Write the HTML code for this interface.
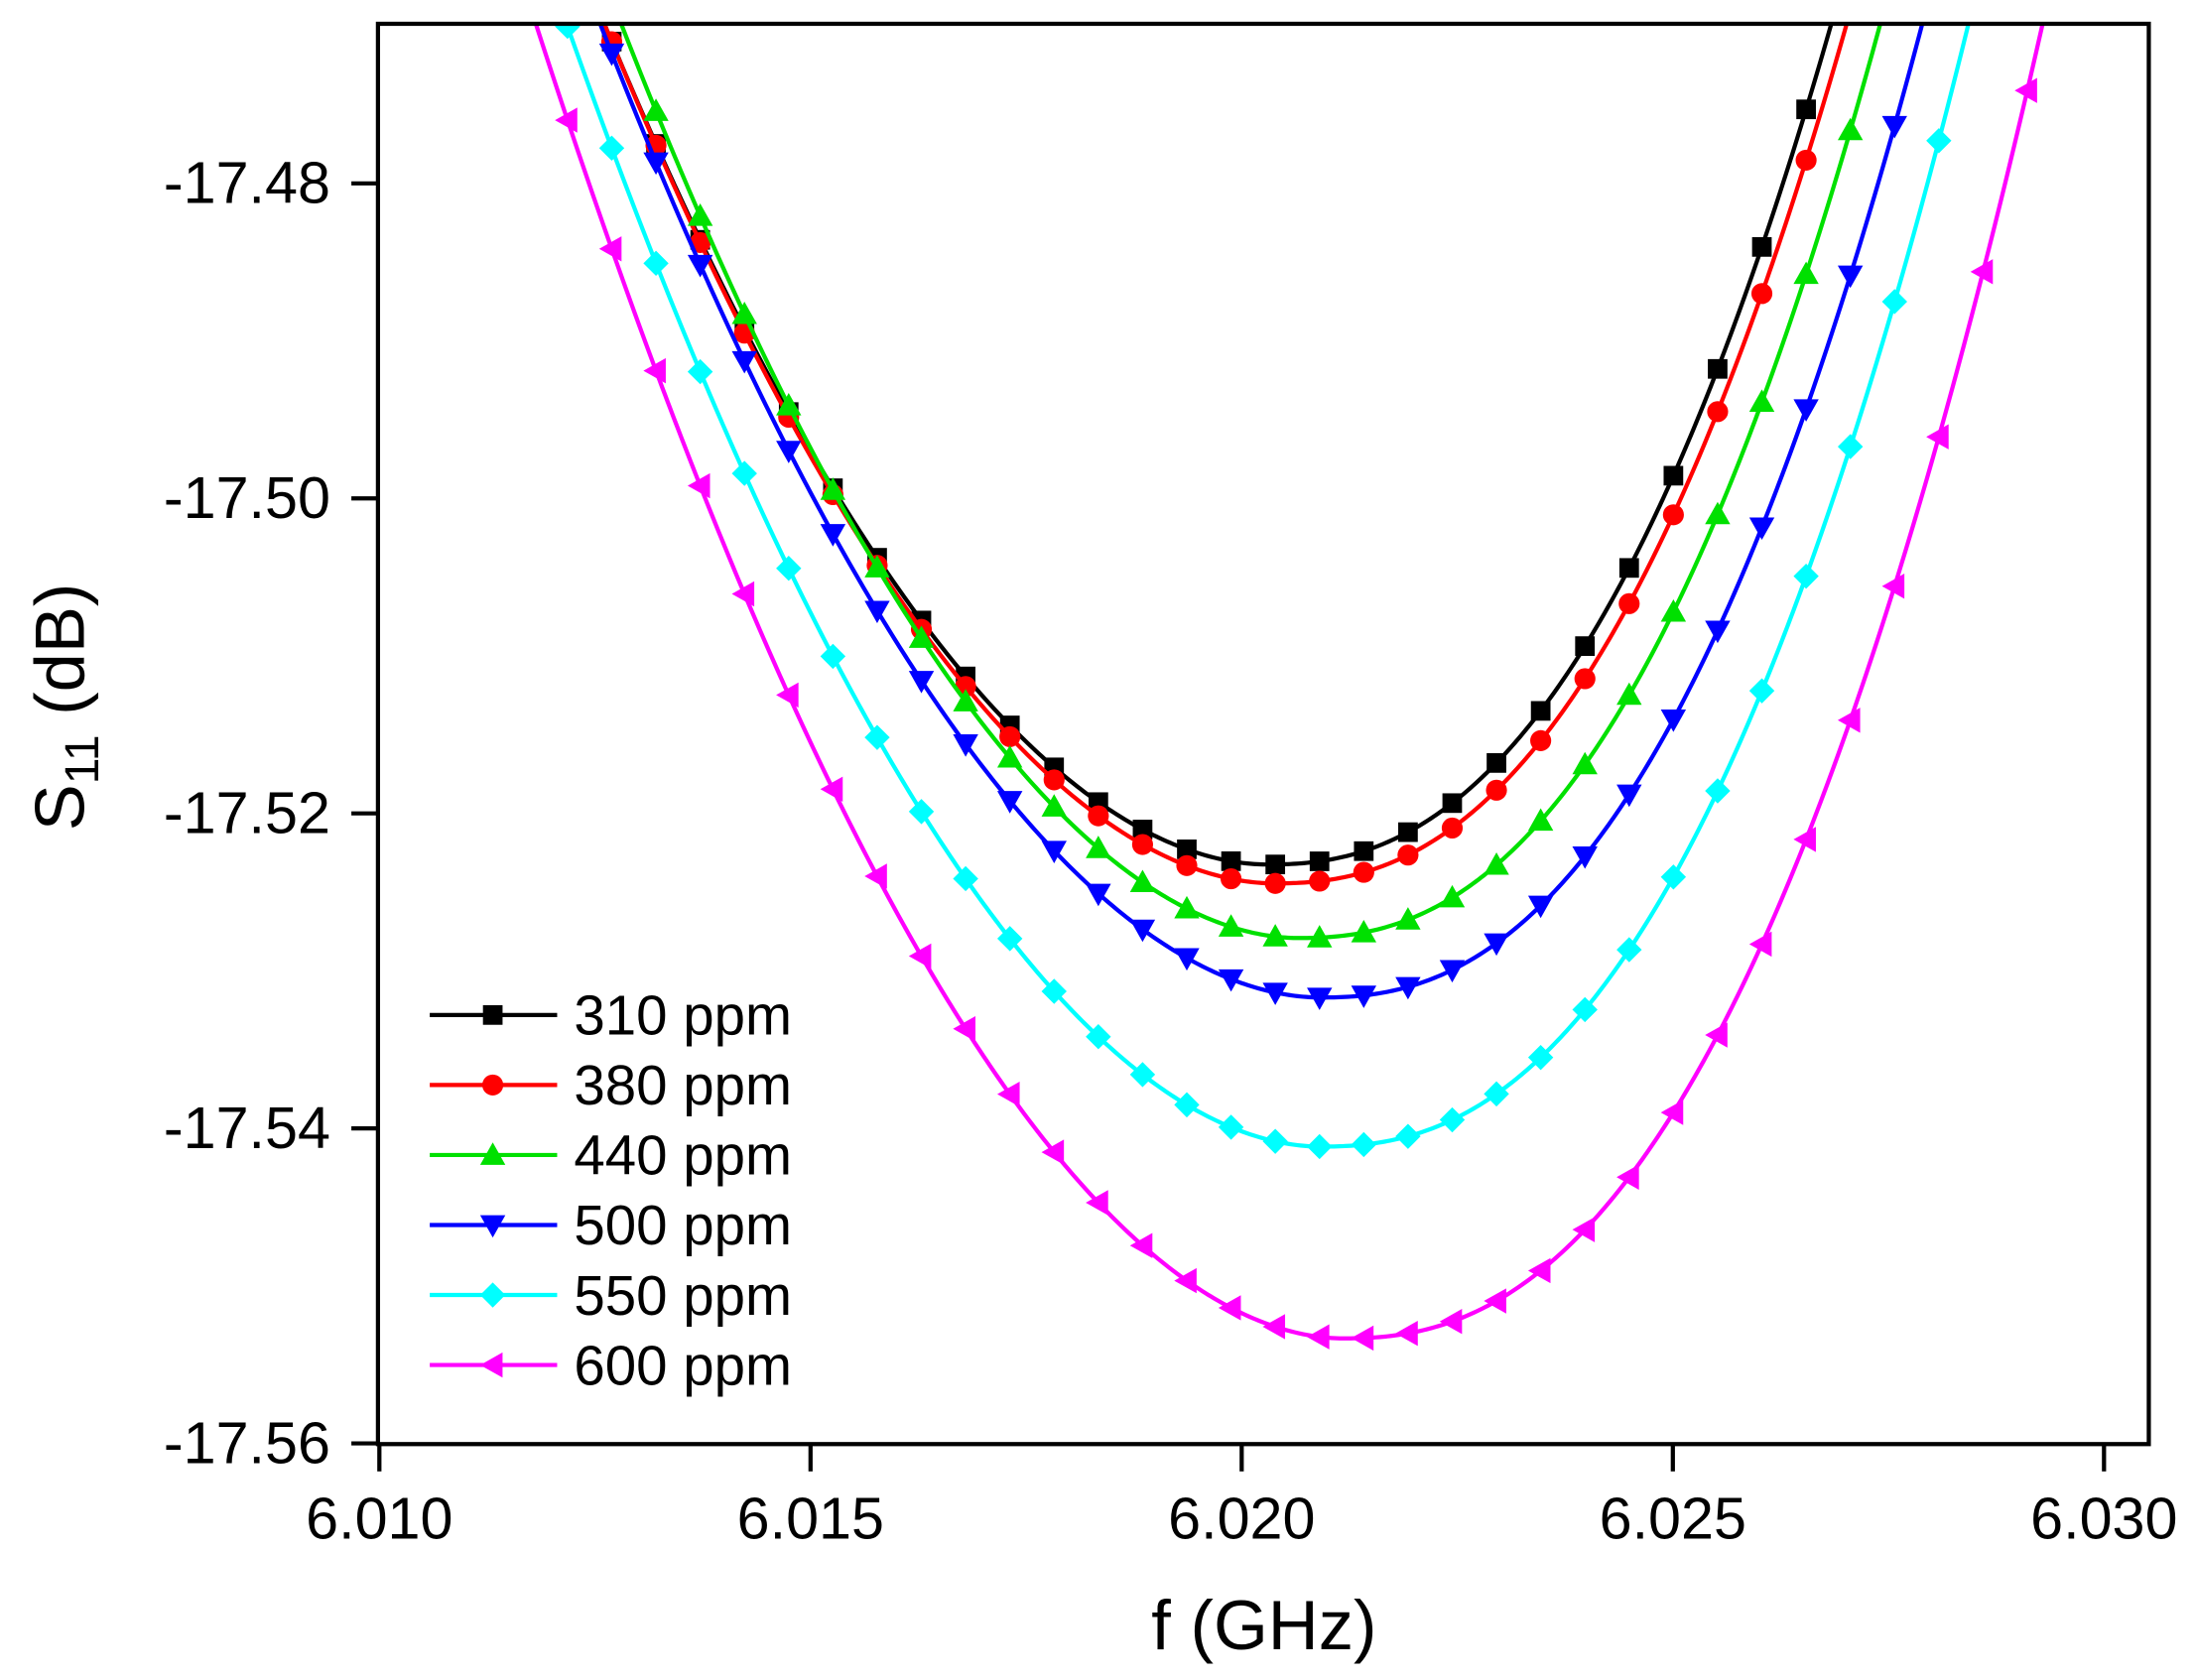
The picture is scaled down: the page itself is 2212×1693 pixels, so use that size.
<!DOCTYPE html>
<html><head><meta charset="utf-8"><style>
html,body{margin:0;padding:0;background:#fff;}
svg{display:block;}
text{font-family:"Liberation Sans",Arial,sans-serif;fill:#000;}
</style></head><body>
<svg id="s" width="2212" height="1693" viewBox="0 0 1568 1200" preserveAspectRatio="none" xmlns="http://www.w3.org/2000/svg">
<defs><clipPath id="c"><rect x="270" y="17" width="1266" height="1015"/></clipPath></defs>
<g id="plot" clip-path="url(#c)"></g>
<g id="leg"></g>
<rect x="270" y="17" width="1265" height="1014.5" fill="none" stroke="#000" stroke-width="3"/>
<g stroke="#000" stroke-width="3">
<line x1="251" y1="131" x2="270" y2="131"/><line x1="251" y1="356" x2="270" y2="356"/>
<line x1="251" y1="581" x2="270" y2="581"/><line x1="251" y1="806" x2="270" y2="806"/>
<line x1="251" y1="1031" x2="270" y2="1031"/>
<line x1="271" y1="1031" x2="271" y2="1051"/><line x1="579" y1="1031" x2="579" y2="1051"/>
<line x1="887" y1="1031" x2="887" y2="1051"/><line x1="1195" y1="1031" x2="1195" y2="1051"/>
<line x1="1503" y1="1031" x2="1503" y2="1051"/>
</g>
<g font-size="42" text-anchor="end">
<text x="236" y="145">-17.48</text><text x="236" y="370">-17.50</text>
<text x="236" y="595">-17.52</text><text x="236" y="820">-17.54</text>
<text x="236" y="1045">-17.56</text>
</g>
<g font-size="42" text-anchor="middle">
<text x="271" y="1099">6.010</text><text x="579" y="1099">6.015</text>
<text x="887" y="1099">6.020</text><text x="1195" y="1099">6.025</text>
<text x="1503" y="1099">6.030</text>
</g>
<text x="903" y="1178" font-size="50" text-anchor="middle">f (GHz)</text>
<text transform="translate(60,505) rotate(-90)" font-size="50" text-anchor="middle">S<tspan font-size="34" dy="10">11</tspan><tspan dy="-10"> (dB)</tspan></text>
</svg>
<script>
(function(){
var NS="http://www.w3.org/2000/svg";
var S=[
 ["#000000","sq",905,617.5,432,1308,"310 ppm"],
 ["#ff0000","ci",910,631,432,1319,"380 ppm"],
 ["#00e000","tu",927,670,444,1343,"440 ppm"],
 ["#0000ff","td",943,712.5,429,1373,"500 ppm"],
 ["#00ffff","di",943,819,405,1406,"550 ppm"],
 ["#ff00ff","tl",959,956,383,1459,"600 ppm"]];
var TOPY=17.7,pL=1.9,pR=2.35;
function yAt(s,x){var u=x-s[2],D=s[3]-TOPY;
 if(u<0)return s[3]-D*Math.pow(-u/(s[2]-s[4]),pL);
 return s[3]-D*Math.pow(u/(s[5]-s[2]),pR);}
function mk(t,x,y,c){var e;
 if(t=="sq"){e=document.createElementNS(NS,"rect");e.setAttribute("x",x-7);e.setAttribute("y",y-7);e.setAttribute("width",14);e.setAttribute("height",14);}
 else if(t=="ci"){e=document.createElementNS(NS,"circle");e.setAttribute("cx",x);e.setAttribute("cy",y);e.setAttribute("r",7.5);}
 else{e=document.createElementNS(NS,"polygon");var p;
  if(t=="tu")p=[[0,-9],[9,7],[-9,7]];
  else if(t=="td")p=[[0,9],[9,-7],[-9,-7]];
  else if(t=="tl")p=[[-9,0],[7,-9],[7,9]];
  else p=[[0,-9],[9,0],[0,9],[-9,0]];
  e.setAttribute("points",p.map(function(q){return (x+q[0])+","+(y+q[1]);}).join(" "));}
 e.setAttribute("fill",c);return e;}
var g=document.getElementById("plot"),lg=document.getElementById("leg");
S.forEach(function(s,i){
 var d="";for(var x=s[4]-30;x<=s[5]+30;x+=2){d+=(d?"L":"M")+x+","+yAt(s,x).toFixed(2);}
 var p=document.createElementNS(NS,"path");p.setAttribute("d",d);p.setAttribute("fill","none");
 p.setAttribute("stroke",s[0]);p.setAttribute("stroke-width",3);g.appendChild(p);
 for(var k=-20;k<25;k++){var x=911+31.6*k;var y=yAt(s,x);if(x<s[4]-10||x>s[5]+10||y<TOPY-10)continue;g.appendChild(mk(s[1],x,y,s[0]));}
 var ly=725+50*i;
 var l=document.createElementNS(NS,"line");l.setAttribute("x1",307);l.setAttribute("x2",398);l.setAttribute("y1",ly);l.setAttribute("y2",ly);
 l.setAttribute("stroke",s[0]);l.setAttribute("stroke-width",3);lg.appendChild(l);
 lg.appendChild(mk(s[1],352,ly,s[0]));
 var t=document.createElementNS(NS,"text");t.setAttribute("x",410);t.setAttribute("y",ly+14);t.setAttribute("font-size",40);t.textContent=s[6];lg.appendChild(t);
});
})();
</script>
</body></html>
